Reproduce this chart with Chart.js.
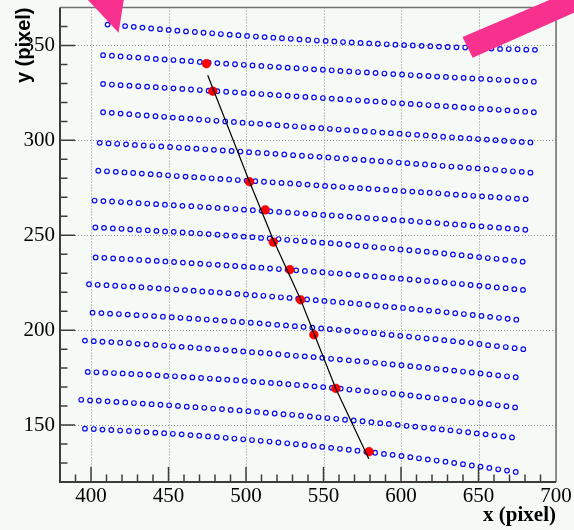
<!DOCTYPE html>
<html>
<head>
<meta charset="utf-8">
<title>Grid points and track fit</title>
<script src="https://cdn.jsdelivr.net/npm/chart.js@4.4.0/dist/chart.umd.min.js"></script>
<style>
  html, body { margin: 0; padding: 0; background: #f6faf7; }
  #wrap { width: 574px; height: 530px; }
</style>
</head>
<body>
<div id="wrap"><canvas id="gridChart" width="574" height="530"></canvas></div>
<script>
// axis ranges and tick values
const xRange = [380, 700];
const yRange = [120, 370];
const xTicks = [400, 450, 500, 550, 600, 650, 700];
const yTicks = [150, 200, 250, 300, 350];
const xMinorTicks = [390, 400, 410, 420, 430, 440, 450, 460, 470, 480, 490, 500, 510, 520, 530, 540, 550, 560, 570, 580, 590, 600, 610, 620, 630, 640, 650, 660, 670, 680, 690];
const yMinorTicks = [130, 140, 150, 160, 170, 180, 190, 200, 210, 220, 230, 240, 250, 260, 270, 280, 290, 300, 310, 320, 330, 340, 350, 360];

// calibration grid rows (open blue circles), top row first
const gridRowX = [
  [410.7, 416.3, 422.0, 427.6, 433.2, 438.8, 444.5, 450.1, 455.7, 461.3, 467.0, 472.6, 478.2, 483.8, 489.5, 495.1, 500.7, 506.4, 512.0, 517.6, 523.2, 528.9, 534.5, 540.1, 545.7, 551.4, 557.0, 562.6, 568.2, 573.9, 579.5, 585.1, 590.8, 596.4, 602.0, 607.6, 613.3, 618.9, 624.5, 630.1, 635.8, 641.4, 647.0, 652.6, 658.3, 663.9, 669.5, 675.2, 680.8, 686.4],
  [407.8, 413.5, 419.1, 424.8, 430.5, 436.2, 441.8, 447.5, 453.2, 458.9, 464.5, 470.2, 475.9, 481.5, 487.2, 492.9, 498.6, 504.2, 509.9, 515.6, 521.2, 526.9, 532.6, 538.3, 543.9, 549.6, 555.3, 560.9, 566.6, 572.3, 578.0, 583.6, 589.3, 595.0, 600.7, 606.3, 612.0, 617.7, 623.3, 629.0, 634.7, 640.4, 646.0, 651.7, 657.4, 663.0, 668.7, 674.4, 680.1, 685.7],
  [407.8, 413.5, 419.1, 424.8, 430.5, 436.2, 441.8, 447.5, 453.2, 458.9, 464.5, 470.2, 475.9, 481.5, 487.2, 492.9, 498.6, 504.2, 509.9, 515.6, 521.2, 526.9, 532.6, 538.3, 543.9, 549.6, 555.3, 560.9, 566.6, 572.3, 578.0, 583.6, 589.3, 595.0, 600.7, 606.3, 612.0, 617.7, 623.3, 629.0, 634.7, 640.4, 646.0, 651.7, 657.4, 663.0, 668.7, 674.4, 680.1, 685.7],
  [407.8, 413.4, 419.1, 424.7, 430.3, 435.9, 441.6, 447.2, 452.8, 458.4, 464.1, 469.7, 475.3, 480.9, 486.6, 492.2, 497.8, 503.5, 509.1, 514.7, 520.3, 526.0, 531.6, 537.2, 542.8, 548.5, 554.1, 559.7, 565.3, 571.0, 576.6, 582.2, 587.9, 593.5, 599.1, 604.7, 610.4, 616.0, 621.6, 627.2, 632.9, 638.5, 644.1, 649.7, 655.4, 661.0, 666.6, 672.3, 677.9, 683.5],
  [405.6, 411.3, 416.9, 422.6, 428.3, 434.0, 439.6, 445.3, 451.0, 456.7, 462.3, 468.0, 473.7, 479.3, 485.0, 490.7, 496.4, 502.0, 507.7, 513.4, 519.0, 524.7, 530.4, 536.1, 541.7, 547.4, 553.1, 558.7, 564.4, 570.1, 575.8, 581.4, 587.1, 592.8, 598.5, 604.1, 609.8, 615.5, 621.1, 626.8, 632.5, 638.2, 643.8, 649.5, 655.2, 660.8, 666.5, 672.2, 677.9, 683.5],
  [404.7, 410.3, 416.0, 421.6, 427.2, 432.8, 438.5, 444.1, 449.7, 455.3, 461.0, 466.6, 472.2, 477.8, 483.5, 489.1, 494.7, 500.4, 506.0, 511.6, 517.2, 522.9, 528.5, 534.1, 539.7, 545.4, 551.0, 556.6, 562.2, 567.9, 573.5, 579.1, 584.8, 590.4, 596.0, 601.6, 607.3, 612.9, 618.5, 624.1, 629.8, 635.4, 641.0, 646.6, 652.3, 657.9, 663.5, 669.2, 674.8, 680.4],
  [402.3, 408.0, 413.6, 419.3, 425.0, 430.7, 436.3, 442.0, 447.7, 453.4, 459.0, 464.7, 470.4, 476.0, 481.7, 487.4, 493.1, 498.7, 504.4, 510.1, 515.7, 521.4, 527.1, 532.8, 538.4, 544.1, 549.8, 555.4, 561.1, 566.8, 572.5, 578.1, 583.8, 589.5, 595.2, 600.8, 606.5, 612.2, 617.8, 623.5, 629.2, 634.9, 640.5, 646.2, 651.9, 657.5, 663.2, 668.9, 674.6, 680.2],
  [402.8, 408.4, 414.1, 419.7, 425.3, 430.9, 436.6, 442.2, 447.8, 453.4, 459.1, 464.7, 470.3, 475.9, 481.6, 487.2, 492.8, 498.5, 504.1, 509.7, 515.3, 521.0, 526.6, 532.2, 537.8, 543.5, 549.1, 554.7, 560.3, 566.0, 571.6, 577.2, 582.9, 588.5, 594.1, 599.7, 605.4, 611.0, 616.6, 622.2, 627.9, 633.5, 639.1, 644.7, 650.4, 656.0, 661.6, 667.3, 672.9, 678.5],
  [403.0, 408.6, 414.3, 419.9, 425.5, 431.1, 436.8, 442.4, 448.0, 453.6, 459.3, 464.9, 470.5, 476.1, 481.8, 487.4, 493.0, 498.7, 504.3, 509.9, 515.5, 521.2, 526.8, 532.4, 538.0, 543.7, 549.3, 554.9, 560.5, 566.2, 571.8, 577.4, 583.1, 588.7, 594.3, 599.9, 605.6, 611.2, 616.8, 622.4, 628.1, 633.7, 639.3, 644.9, 650.6, 656.2, 661.8, 667.5, 673.1, 678.7],
  [398.7, 404.3, 410.0, 415.6, 421.2, 426.8, 432.5, 438.1, 443.7, 449.3, 455.0, 460.6, 466.2, 471.8, 477.5, 483.1, 488.7, 494.4, 500.0, 505.6, 511.2, 516.9, 522.5, 528.1, 533.7, 539.4, 545.0, 550.6, 556.2, 561.9, 567.5, 573.1, 578.8, 584.4, 590.0, 595.6, 601.3, 606.9, 612.5, 618.1, 623.8, 629.4, 635.0, 640.6, 646.3, 651.9, 657.5, 663.2, 668.8, 674.4],
  [401.0, 406.7, 412.3, 418.0, 423.7, 429.4, 435.0, 440.7, 446.4, 452.1, 457.7, 463.4, 469.1, 474.7, 480.4, 486.1, 491.8, 497.4, 503.1, 508.8, 514.4, 520.1, 525.8, 531.5, 537.1, 542.8, 548.5, 554.1, 559.8, 565.5, 571.2, 576.8, 582.5, 588.2, 593.9, 599.5, 605.2, 610.9, 616.5, 622.2, 627.9, 633.6, 639.2, 644.9, 650.6, 656.2, 661.9, 667.6, 673.3, 678.9],
  [396.1, 401.8, 407.4, 413.1, 418.8, 424.5, 430.1, 435.8, 441.5, 447.2, 452.8, 458.5, 464.2, 469.8, 475.5, 481.2, 486.9, 492.5, 498.2, 503.9, 509.5, 515.2, 520.9, 526.6, 532.2, 537.9, 543.6, 549.2, 554.9, 560.6, 566.3, 571.9, 577.6, 583.3, 589.0, 594.6, 600.3, 606.0, 611.6, 617.3, 623.0, 628.7, 634.3, 640.0, 645.7, 651.3, 657.0, 662.7, 668.4, 674.0],
  [397.9, 403.5, 409.2, 414.8, 420.4, 426.0, 431.7, 437.3, 442.9, 448.5, 454.2, 459.8, 465.4, 471.0, 476.7, 482.3, 487.9, 493.6, 499.2, 504.8, 510.4, 516.1, 521.7, 527.3, 532.9, 538.6, 544.2, 549.8, 555.4, 561.1, 566.7, 572.3, 578.0, 583.6, 589.2, 594.8, 600.5, 606.1, 611.7, 617.3, 623.0, 628.6, 634.2, 639.8, 645.5, 651.1, 656.7, 662.4, 668.0, 673.6],
  [393.7, 399.4, 405.0, 410.7, 416.4, 422.1, 427.7, 433.4, 439.1, 444.8, 450.4, 456.1, 461.8, 467.4, 473.1, 478.8, 484.5, 490.1, 495.8, 501.5, 507.1, 512.8, 518.5, 524.2, 529.8, 535.5, 541.2, 546.8, 552.5, 558.2, 563.9, 569.5, 575.2, 580.9, 586.6, 592.2, 597.9, 603.6, 609.2, 614.9, 620.6, 626.3, 631.9, 637.6, 643.3, 648.9, 654.6, 660.3, 666.0, 671.6],
  [396.1, 401.8, 407.4, 413.1, 418.8, 424.5, 430.1, 435.8, 441.5, 447.2, 452.8, 458.5, 464.2, 469.8, 475.5, 481.2, 486.9, 492.5, 498.2, 503.9, 509.5, 515.2, 520.9, 526.6, 532.2, 537.9, 543.6, 549.2, 554.9, 560.6, 566.3, 571.9, 577.6, 583.3, 589.0, 594.6, 600.3, 606.0, 611.6, 617.3, 623.0, 628.7, 634.3, 640.0, 645.7, 651.3, 657.0, 662.7, 668.4, 674.0]
];

const gridRowY = [
  [361.0, 360.6, 360.2, 359.8, 359.4, 359.0, 358.6, 358.2, 357.8, 357.4, 357.1, 356.7, 356.4, 356.0, 355.7, 355.4, 355.0, 354.7, 354.4, 354.1, 353.8, 353.5, 353.2, 352.9, 352.6, 352.4, 352.1, 351.8, 351.6, 351.3, 351.1, 350.9, 350.6, 350.4, 350.2, 350.0, 349.8, 349.6, 349.4, 349.2, 349.0, 348.9, 348.7, 348.5, 348.4, 348.2, 348.1, 348.0, 347.8, 347.7],
  [344.9, 344.6, 344.2, 343.9, 343.6, 343.3, 342.9, 342.6, 342.3, 342.0, 341.7, 341.3, 341.0, 340.7, 340.4, 340.1, 339.8, 339.5, 339.2, 338.9, 338.6, 338.3, 338.0, 337.7, 337.4, 337.2, 336.9, 336.6, 336.3, 336.0, 335.8, 335.5, 335.2, 334.9, 334.7, 334.4, 334.1, 333.9, 333.6, 333.4, 333.1, 332.9, 332.6, 332.4, 332.1, 331.9, 331.6, 331.4, 331.1, 330.9],
  [329.7, 329.4, 329.1, 328.8, 328.5, 328.3, 328.0, 327.7, 327.4, 327.1, 326.8, 326.5, 326.2, 325.9, 325.6, 325.3, 325.0, 324.7, 324.4, 324.1, 323.8, 323.5, 323.2, 322.9, 322.6, 322.3, 322.0, 321.7, 321.4, 321.1, 320.8, 320.5, 320.2, 319.8, 319.5, 319.2, 318.9, 318.6, 318.3, 318.0, 317.7, 317.3, 317.0, 316.7, 316.4, 316.1, 315.8, 315.4, 315.1, 314.8],
  [314.8, 314.5, 314.1, 313.8, 313.4, 313.1, 312.7, 312.4, 312.0, 311.7, 311.4, 311.0, 310.7, 310.3, 310.0, 309.7, 309.3, 309.0, 308.7, 308.3, 308.0, 307.7, 307.4, 307.0, 306.7, 306.4, 306.1, 305.7, 305.4, 305.1, 304.8, 304.5, 304.1, 303.8, 303.5, 303.2, 302.9, 302.6, 302.3, 301.9, 301.6, 301.3, 301.0, 300.7, 300.4, 300.1, 299.8, 299.5, 299.2, 298.9],
  [298.7, 298.4, 298.2, 297.9, 297.6, 297.3, 297.0, 296.8, 296.5, 296.2, 295.9, 295.6, 295.3, 295.0, 294.7, 294.4, 294.1, 293.8, 293.5, 293.2, 292.9, 292.6, 292.2, 291.9, 291.6, 291.3, 291.0, 290.6, 290.3, 290.0, 289.7, 289.3, 289.0, 288.7, 288.3, 288.0, 287.6, 287.3, 286.9, 286.6, 286.2, 285.9, 285.5, 285.2, 284.8, 284.5, 284.1, 283.7, 283.4, 283.0],
  [284.0, 283.7, 283.4, 283.1, 282.8, 282.5, 282.2, 281.9, 281.6, 281.2, 280.9, 280.6, 280.3, 280.0, 279.7, 279.4, 279.1, 278.8, 278.5, 278.2, 277.9, 277.6, 277.3, 277.0, 276.7, 276.3, 276.0, 275.7, 275.4, 275.1, 274.8, 274.5, 274.2, 273.9, 273.6, 273.3, 273.0, 272.7, 272.4, 272.1, 271.8, 271.4, 271.1, 270.8, 270.5, 270.2, 269.9, 269.6, 269.3, 269.0],
  [268.3, 268.0, 267.8, 267.5, 267.2, 266.9, 266.7, 266.4, 266.1, 265.8, 265.5, 265.3, 265.0, 264.7, 264.4, 264.1, 263.8, 263.5, 263.2, 262.9, 262.6, 262.3, 262.0, 261.7, 261.4, 261.0, 260.7, 260.4, 260.1, 259.8, 259.4, 259.1, 258.8, 258.5, 258.1, 257.8, 257.5, 257.1, 256.8, 256.4, 256.1, 255.7, 255.4, 255.0, 254.7, 254.3, 254.0, 253.6, 253.3, 252.9],
  [254.1, 253.9, 253.6, 253.4, 253.1, 252.8, 252.6, 252.3, 252.0, 251.8, 251.5, 251.2, 250.9, 250.6, 250.3, 249.9, 249.6, 249.3, 249.0, 248.6, 248.3, 248.0, 247.6, 247.2, 246.9, 246.5, 246.1, 245.8, 245.4, 245.0, 244.6, 244.2, 243.8, 243.4, 243.0, 242.5, 242.1, 241.7, 241.3, 240.8, 240.4, 239.9, 239.5, 239.0, 238.5, 238.0, 237.6, 237.1, 236.6, 236.1],
  [238.3, 238.1, 237.8, 237.5, 237.3, 237.0, 236.7, 236.5, 236.2, 235.9, 235.6, 235.3, 235.0, 234.7, 234.4, 234.1, 233.8, 233.5, 233.2, 232.9, 232.5, 232.2, 231.9, 231.5, 231.2, 230.8, 230.5, 230.1, 229.8, 229.4, 229.0, 228.6, 228.3, 227.9, 227.5, 227.1, 226.7, 226.3, 225.9, 225.5, 225.1, 224.7, 224.3, 223.8, 223.4, 223.0, 222.5, 222.1, 221.6, 221.2],
  [224.2, 223.9, 223.7, 223.4, 223.1, 222.9, 222.6, 222.3, 222.0, 221.7, 221.4, 221.1, 220.8, 220.4, 220.1, 219.8, 219.5, 219.1, 218.8, 218.4, 218.1, 217.7, 217.3, 217.0, 216.6, 216.2, 215.8, 215.4, 215.0, 214.6, 214.2, 213.8, 213.4, 213.0, 212.5, 212.1, 211.7, 211.2, 210.8, 210.3, 209.9, 209.4, 208.9, 208.5, 208.0, 207.5, 207.0, 206.5, 206.0, 205.5],
  [209.2, 209.0, 208.7, 208.5, 208.2, 207.9, 207.7, 207.4, 207.1, 206.8, 206.5, 206.2, 205.9, 205.6, 205.3, 204.9, 204.6, 204.3, 203.9, 203.6, 203.2, 202.8, 202.5, 202.1, 201.7, 201.3, 200.9, 200.5, 200.1, 199.7, 199.3, 198.8, 198.4, 197.9, 197.5, 197.0, 196.6, 196.1, 195.6, 195.2, 194.7, 194.2, 193.7, 193.2, 192.7, 192.1, 191.6, 191.1, 190.5, 190.0],
  [194.5, 194.2, 193.9, 193.7, 193.4, 193.1, 192.8, 192.5, 192.2, 191.9, 191.5, 191.2, 190.9, 190.5, 190.2, 189.9, 189.5, 189.2, 188.8, 188.4, 188.1, 187.7, 187.3, 186.9, 186.5, 186.2, 185.8, 185.4, 184.9, 184.5, 184.1, 183.7, 183.3, 182.8, 182.4, 181.9, 181.5, 181.0, 180.6, 180.1, 179.6, 179.2, 178.7, 178.2, 177.7, 177.2, 176.7, 176.2, 175.7, 175.2],
  [178.0, 177.8, 177.6, 177.4, 177.2, 176.9, 176.7, 176.5, 176.2, 175.9, 175.7, 175.4, 175.1, 174.8, 174.5, 174.2, 173.9, 173.6, 173.3, 172.9, 172.6, 172.2, 171.9, 171.5, 171.1, 170.8, 170.4, 170.0, 169.6, 169.2, 168.7, 168.3, 167.9, 167.4, 167.0, 166.5, 166.1, 165.6, 165.1, 164.6, 164.1, 163.6, 163.1, 162.6, 162.0, 161.5, 161.0, 160.4, 159.9, 159.3],
  [163.3, 163.0, 162.8, 162.5, 162.2, 161.9, 161.6, 161.3, 161.0, 160.7, 160.4, 160.1, 159.7, 159.4, 159.1, 158.7, 158.4, 158.0, 157.7, 157.3, 156.9, 156.5, 156.1, 155.7, 155.4, 154.9, 154.5, 154.1, 153.7, 153.3, 152.8, 152.4, 152.0, 151.5, 151.0, 150.6, 150.1, 149.6, 149.2, 148.7, 148.2, 147.7, 147.2, 146.7, 146.2, 145.6, 145.1, 144.6, 144.0, 143.5],
  [148.1, 147.9, 147.6, 147.4, 147.1, 146.9, 146.6, 146.3, 146.0, 145.7, 145.4, 145.1, 144.7, 144.4, 144.0, 143.7, 143.3, 142.9, 142.5, 142.1, 141.7, 141.3, 140.8, 140.4, 139.9, 139.5, 139.0, 138.5, 138.0, 137.5, 137.0, 136.5, 135.9, 135.4, 134.8, 134.3, 133.7, 133.1, 132.5, 131.9, 131.3, 130.7, 130.0, 129.4, 128.7, 128.1, 127.4, 126.7, 126.0, 125.3]
];

// track hits (red) and fitted track (black)
const hitX = [474.5, 478.6, 502.3, 512.4, 517.6, 528.3, 535.2, 543.8, 558.0, 579.4];
const hitY = [340.4, 325.9, 278.2, 263.4, 246.4, 231.9, 216.0, 197.6, 169.3, 136.0];
const fitX = [475.3, 501.8, 517.6, 535.2, 557.9, 579.2];
const fitY = [334.3, 279.1, 247.6, 216.1, 169.3, 132.2];

// pink annotation shapes, in data units
const arrowHeadX = [386.4, 423.1, 417.8];
const arrowHeadY = [384.1, 384.1, 356.7];
const arrowBarX = [639.7, 646.2, 729.1, 729.1];
const arrowBarY = [354.4, 343.5, 373.6, 385.6];

const BG = '#f6faf7';
const SERIF = "'Liberation Serif', 'Times New Roman', Times, serif";
const SANS = "'Liberation Sans', Arial, Helvetica, sans-serif";

function fillShape(ctx, xs, ys, scaleX, scaleY) {
    ctx.beginPath();
    xs.forEach((v, i) => {
        const px = scaleX.getPixelForValue(v);
        const py = scaleY.getPixelForValue(ys[i]);
        if (i === 0) ctx.moveTo(px, py); else ctx.lineTo(px, py);
    });
    ctx.closePath();
    ctx.fill();
}

const rootFrame = {
    id: 'rootFrame',
    beforeDraw(chart) {
        const { ctx, width, height } = chart;
        ctx.save();
        ctx.fillStyle = BG;
        ctx.fillRect(0, 0, width, height);
        ctx.restore();
    },
    beforeDatasetsDraw(chart) {
        const { ctx, chartArea: a, scales: { x, y } } = chart;
        ctx.save();
        ctx.strokeStyle = '#8a8a8a';
        ctx.lineWidth = 1;
        ctx.setLineDash([1, 2]);
        ctx.beginPath();
        xTicks.forEach(v => {
            const px = Math.round(x.getPixelForValue(v)) + 0.5;
            ctx.moveTo(px, a.top);
            ctx.lineTo(px, a.bottom);
        });
        yTicks.forEach(v => {
            const py = Math.round(y.getPixelForValue(v)) + 0.5;
            ctx.moveTo(a.left, py);
            ctx.lineTo(a.right, py);
        });
        ctx.stroke();
        ctx.restore();
    },
    afterDatasetsDraw(chart) {
        const { ctx, chartArea: a, scales: { x, y } } = chart;
        ctx.save();

        // top and right frame
        ctx.strokeStyle = '#707070';
        ctx.lineWidth = 1.5;
        ctx.beginPath();
        ctx.moveTo(a.left, a.top);
        ctx.lineTo(a.right, a.top);
        ctx.lineTo(a.right, a.bottom);
        ctx.stroke();

        // axes
        ctx.strokeStyle = '#3c3c3c';
        ctx.lineWidth = 2;
        ctx.beginPath();
        ctx.moveTo(a.left, a.top);
        ctx.lineTo(a.left, a.bottom);
        ctx.lineTo(a.right, a.bottom);
        ctx.stroke();

        // inward ticks
        ctx.lineWidth = 1.5;
        ctx.beginPath();
        xMinorTicks.forEach(v => {
            const px = x.getPixelForValue(v);
            const len = xTicks.includes(v) ? 15 : 7.5;
            ctx.moveTo(px, a.bottom);
            ctx.lineTo(px, a.bottom - len);
        });
        yMinorTicks.forEach(v => {
            const py = y.getPixelForValue(v);
            const len = yTicks.includes(v) ? 15 : 7.5;
            ctx.moveTo(a.left, py);
            ctx.lineTo(a.left + len, py);
        });
        ctx.stroke();

        // pink arrows
        ctx.fillStyle = '#f8318f';
        fillShape(ctx, arrowHeadX, arrowHeadY, x, y);
        fillShape(ctx, arrowBarX, arrowBarY, x, y);

        ctx.restore();
    }
};

const rowDatasets = gridRowX.map((xs, k) => ({
    label: `row ${k + 1}`,
    data: xs.map((v, i) => ({ x: v, y: gridRowY[k][i] })),
    showLine: false,
    pointStyle: 'circle',
    pointRadius: 2.3,
    borderWidth: 1.2,
    borderColor: '#0a0af0',
    backgroundColor: 'rgba(0,0,0,0)',
    order: 2
}));

const hitDataset = {
    label: 'hits',
    data: hitX.map((v, i) => ({ x: v, y: hitY[i] })),
    showLine: false,
    pointStyle: 'circle',
    pointRadius: 4.4,
    borderWidth: 0.5,
    borderColor: '#dd0000',
    backgroundColor: '#ff0000',
    order: 1
};

const fitDataset = {
    label: 'fit',
    data: fitX.map((v, i) => ({ x: v, y: fitY[i] })),
    showLine: true,
    pointRadius: 0,
    borderColor: '#000000',
    borderWidth: 1.2,
    tension: 0,
    order: 0
};

new Chart(document.getElementById('gridChart'), {
    type: 'scatter',
    data: { datasets: [...rowDatasets, hitDataset, fitDataset] },
    options: {
        responsive: false,
        animation: false,
        events: [],
        layout: { padding: { top: 7.5, right: 18, bottom: 0, left: 0 } },
        plugins: {
            legend: { display: false },
            tooltip: { enabled: false }
        },
        scales: {
            x: {
                type: 'linear',
                position: 'bottom',
                min: xRange[0],
                max: xRange[1],
                afterBuildTicks: s => { s.ticks = xTicks.map(v => ({ value: v })); },
                afterFit: s => { s.height = 48; s.paddingLeft = 0; s.paddingRight = 0; },
                grid: { display: false, drawTicks: false },
                border: { display: false },
                ticks: {
                    color: '#000',
                    font: { family: SERIF, size: 21 },
                    padding: 2,
                    maxRotation: 0,
                    autoSkip: false
                },
                title: {
                    display: true,
                    text: 'x (pixel)',
                    align: 'end',
                    color: '#000',
                    font: { family: SERIF, size: 21, weight: 'bold' },
                    padding: { top: 0, bottom: 2 }
                }
            },
            y: {
                type: 'linear',
                position: 'left',
                min: yRange[0],
                max: yRange[1],
                afterBuildTicks: s => { s.ticks = yTicks.map(v => ({ value: v })); },
                afterFit: s => { s.width = 60; s.paddingTop = 0; s.paddingBottom = 0; },
                grid: { display: false, drawTicks: false },
                border: { display: false },
                ticks: {
                    color: '#000',
                    font: { family: SERIF, size: 21 },
                    padding: 5,
                    autoSkip: false
                },
                title: {
                    display: true,
                    text: 'y (pixel)',
                    align: 'end',
                    color: '#000',
                    font: { family: SANS, size: 20, weight: 'bold' },
                    padding: { top: 12, bottom: 0 }
                }
            }
        }
    },
    plugins: [rootFrame]
});
</script>
</body>
</html>
